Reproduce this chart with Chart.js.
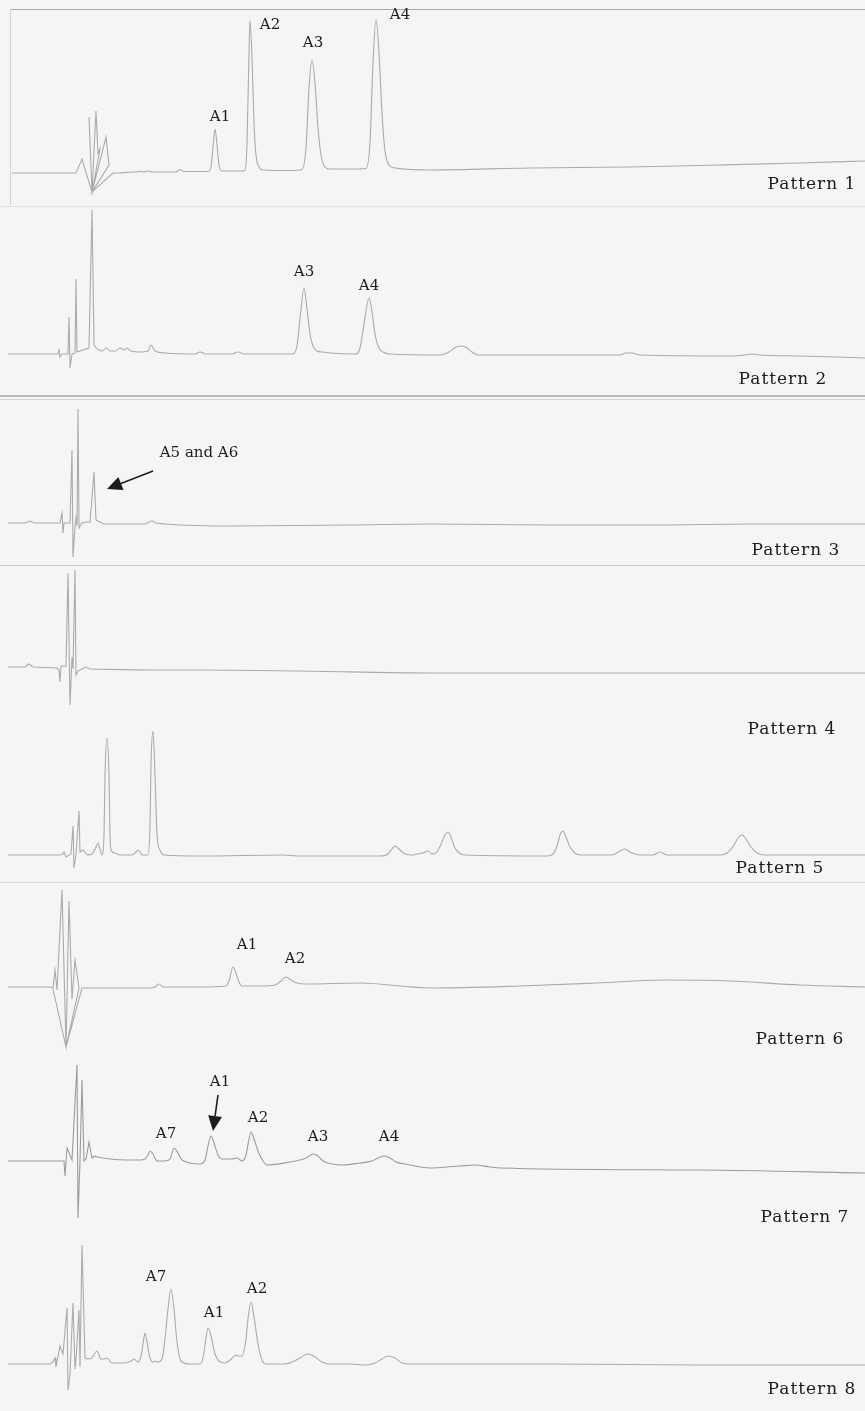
<!DOCTYPE html>
<html>
<head>
<meta charset="utf-8">
<script src="https://cdn.jsdelivr.net/npm/chart.js@4.4.1/dist/chart.umd.min.js"></script>
<style>
html, body { margin: 0; padding: 0; background: #f5f5f3; }
#page { position: relative; width: 865px; height: 1411px; overflow: hidden; }
#page canvas { position: absolute; left: 0; }
.rule { position: absolute; }
</style>
</head>
<body>
<div id="page"></div>
<script>
// retention axis in scan units (0-865), signal in detector units above each run's start baseline
const patternNames = ['Pattern 1', 'Pattern 2', 'Pattern 3', 'Pattern 4', 'Pattern 5', 'Pattern 6', 'Pattern 7', 'Pattern 8'];

// injection / solvent front (sharp, no smoothing)
const spikes1 = [[12,0],[76,0],[82,14],[92,-19],[89,56],[92,-19],[96,62],[98,20],[100,24],[92,-19],[106,36],[109,8],[92,-19],[113,0],[120,0]];
const spikes2 = [[8,0],[58,0],[59,4],[60,-3],[62,0],[68,0],[69,37],[70,-14],[72,0],[75,1],[76,75],[77,2],[83,4],[89,6],[92,144],[94,9],[97,5]];
const spikes3 = [[8,0],[25,0],[30,2],[34,0],[60,0],[62,10],[63,-10],[64,0],[70,0],[72,73],[73,-34],[75,-4],[76,5],[77,-3],[78,114],[79,-5],[82,0],[86,1],[90,1],[94,51],[96,3]];
const spikes4 = [[8,0],[25,0],[29,3],[33,0],[57,-1],[59,-3],[60,-15],[61,1],[66,1],[68,94],[70,-38],[72,10],[73,-2],[75,97],[76,-8],[78,-4],[82,-2],[86,0],[90,-2]];
const spikes5 = [[8,0],[60,0],[63,1],[64,3],[66,-2],[71,1],[73,29],[74,-13],[76,1],[79,44],[80,3],[83,5],[87,0]];
const spikes6 = [[8,0],[50,0],[53,-1],[55,17],[57,-3],[62,97],[66,-60],[53,-2],[66,-60],[69,86],[72,-12],[75,27],[79,-1],[66,-60],[82,-1],[90,-1]];
const spikes7 = [[8,0],[60,0],[64,0],[65,-15],[67,13],[70,6],[72,1],[77,96],[78,-57],[80,0],[82,81],[84,0],[86,2],[89,19],[92,3],[95,5],[97,4]];
const spikes8 = [[8,0],[50,0],[53,2],[55,6],[56,-3],[60,18],[63,10],[67,56],[68,-26],[70,-10],[73,61],[75,-5],[76,4],[79,54],[80,-3],[82,119],[85,6],[88,5]];

// rest of each run (peaks)
const trace1 = [[120,0],[132,1],[137,1],[140,2],[143,1],[148,2],[152,1],[157,1],[176,1],[180,3.5],[184,1.5],[205,1.5],
  [208,1.5],[211,6],[213,26],[215,44],[217,28],[219,8],[222,2],[240,2],
  [245,2.5],[247,30],[249,120],[250,153],[252,115],[254,50],[256,18],[259,6],[263,3],[290,2.5],
  [302,3.5],[306,25],[309,85],[312,113],[315,90],[318,45],[321,18],[325,6],[330,4],[355,4],
  [366,4.5],[370,30],[373,110],[376,154],[379,120],[382,60],[385,22],[389,8],[395,5],
  [430,3],[530,5],[630,6],[720,8],[800,10],[865,12]];
const trace2 = [[97,5],[102,3],[106,6],[110,3],[116,3],[120,6],[124,4],[127,6],[131,3],[140,2],[148,3],[151,9],[155,3],[165,1],[195,0],[200,2],[206,0],[232,0],[238,2],[244,0],[285,0],
  [292,0],[297,8],[300,35],[304,66],[307,45],[310,20],[313,8],[317,3],[322,2],[330,1],
  [355,0],[360,6],[364,30],[369,56],[372,42],[375,20],[378,8],[383,2],[390,0],
  [440,-1],[449,2],[456,7],[462,8],[467,6],[472,2],[478,-1],[550,-1],[620,-1],[626,1],[632,1],[640,-1],[730,-2],[745,-1],[752,0],[760,-1],[800,-2],[865,-4]];
const trace3 = [[96,3],[100,1],[105,-1],[115,-1],[125,-1],[145,-1],[149,1],[152,2],[156,0],[165,-1],[233,-3],[350,-2],[430,-1],[550,-2],[650,-2],[750,-1],[865,-1]];
const trace4 = [[90,-2],[150,-3],[200,-3],[300,-4],[430,-6],[550,-6],[700,-6],[865,-6]];
const trace5 = [[87,0],[92,1],[96,8],[98,12],[100,6],[102,0],[104,20],[105,80],[107,117],[109,80],[110,20],[111,5],[115,2],[120,0],
  [132,0],[136,3],[138,5],[140,3],[142,0],[148,0],[150,30],[151,90],[153,124],[155,80],[157,20],[160,5],[164,0],
  [200,-1],[283,0],[300,-1],[380,-1],[388,1],[392,6],[395,9],[399,6],[405,1],[412,0],[417,1],[423,2],[428,4],[432,1],
  [437,3],[441,11],[445,20],[448,23],[451,18],[454,9],[458,3],[465,0],[547,-1],
  [553,1],[557,9],[560,20],[563,24],[566,18],[570,8],[575,2],[580,0],[612,0],[620,4],[625,6],[630,3],[640,0],[653,0],[660,3],[667,0],
  [720,0],[727,2],[734,10],[738,17],[742,20],[746,16],[751,8],[757,2],[765,0],[865,0]];
const trace6 = [[90,-1],[120,-1],[150,-1],[155,0],[159,3],[163,0],[200,0],[226,1],[229,6],[233,20],[236,14],[239,5],[242,1],[260,1],
  [275,2],[281,6],[286,10],[291,7],[297,4],[305,3],[360,4],[430,-1],[520,1],[597,4],[663,7],[730,6],[800,2],[865,0]];
const trace7 = [[97,4],[110,2],[127,1],[140,1],[145,2],[148,6],[150,10],[153,7],[157,0],[165,0],[170,2],[174,13],[178,8],[182,1],[200,-3],
  [205,1],[208,15],[211,25],[214,18],[218,6],[222,2],[227,2],[232,2],[237,3],[242,0],
  [246,6],[249,22],[251,29],[254,22],[258,10],[263,0],[267,-4],[290,-1],[300,1],[306,3],[313,7],[318,5],[323,0],[332,-3],[343,-4],
  [360,-2],[372,0],[378,3],[384,5],[390,3],[396,-1],[405,-3],[430,-7],[460,-5],[475,-4],[490,-6],[500,-7],[700,-9],[865,-12]];
const trace8 = [[88,5],[92,6],[97,13],[101,5],[104,5],[107,6],[112,1],[125,1],[131,3],[134,5],[138,2],[141,8],[143,20],[145,31],[147,22],[150,6],[153,2],[155,3],[158,2],
  [162,5],[165,25],[168,55],[171,75],[174,55],[177,22],[181,3],[190,0],[200,0],
  [203,6],[206,26],[208,36],[211,28],[215,10],[219,3],[225,1],[230,4],[236,9],[238,8],[242,8],
  [246,25],[248,45],[251,62],[254,47],[258,20],[262,4],[266,0],[285,0],[292,2],[300,6],[308,10],[315,7],[322,2],[330,0],
  [350,0],[366,-1],[375,1],[382,5],[388,8],[395,6],[402,1],[410,0],[430,0],[550,0],[700,-1],[865,-1]];

// peak names [text, retention, signal]
const labels1 = [['A1',220,56],['A2',270,148],['A3',313,130],['A4',400,158]];
const labels2 = [['A3',304,82],['A4',369,68]];
const labels3 = [['A5 and A6',199,70]];
const labels6 = [['A1',247,42],['A2',295,28]];
const labels7 = [['A7',166,27],['A1',220,79],['A2',258,43],['A3',318,24],['A4',389,24]];
const labels8 = [['A7',156,87],['A1',214,51],['A2',257,75]];

// arrows [fromX, fromY, toX, toY]
const arrows3 = [[153,52,107,34]];
const arrows7 = [[218,66,213,30]];

// where each "Pattern n" caption sits [retention, signal]
const nameX = [812, 783, 796, 792, 780, 800, 805, 812];
const nameY = [-12, -26, -28, -63, -14, -53, -57, -26];

const notes = {
    id: 'notes',
    afterDatasetsDraw(chart, args, opts) {
        var ctx = chart.ctx;
        var xs = chart.scales.x, ys = chart.scales.y;
        ctx.save();
        ctx.fillStyle = '#1c1c1c';
        ctx.strokeStyle = '#1c1c1c';
        ctx.textAlign = 'center';
        ctx.textBaseline = 'middle';
        ctx.font = '15px "DejaVu Serif"';
        (opts.labels || []).forEach(function(l) {
            ctx.fillText(l[0], xs.getPixelForValue(l[1]), ys.getPixelForValue(l[2]));
        });
        (opts.arrows || []).forEach(function(a) {
            var x1 = xs.getPixelForValue(a[0]), y1 = ys.getPixelForValue(a[1]);
            var x2 = xs.getPixelForValue(a[2]), y2 = ys.getPixelForValue(a[3]);
            var ang = Math.atan2(y2 - y1, x2 - x1);
            var len = 15, half = 7;
            var bx = x2 - len * Math.cos(ang), by = y2 - len * Math.sin(ang);
            ctx.lineWidth = 1.6;
            ctx.beginPath();
            ctx.moveTo(x1, y1);
            ctx.lineTo(bx, by);
            ctx.stroke();
            ctx.beginPath();
            ctx.moveTo(x2, y2);
            ctx.lineTo(bx + half * Math.sin(ang), by - half * Math.cos(ang));
            ctx.lineTo(bx - half * Math.sin(ang), by + half * Math.cos(ang));
            ctx.closePath();
            ctx.fill();
        });
        if (opts.name) {
            ctx.font = '17px "DejaVu Serif"';
            ctx.letterSpacing = '1px';
            ctx.fillText(opts.name, xs.getPixelForValue(opts.nameAt[0]), ys.getPixelForValue(opts.nameAt[1]));
        }
        ctx.restore();
    }
};

// page layout: top, height and start-baseline row for each run
var panels = [
    {spikes: spikes1, trace: trace1, labels: labels1, top: 0, height: 206, ref: 173},
    {spikes: spikes2, trace: trace2, labels: labels2, top: 205, height: 192, ref: 354},
    {spikes: spikes3, trace: trace3, labels: labels3, arrows: arrows3, top: 397, height: 169, ref: 523},
    {spikes: spikes4, trace: trace4, top: 566, height: 180, ref: 667},
    {spikes: spikes5, trace: trace5, top: 715, height: 167, ref: 855},
    {spikes: spikes6, trace: trace6, labels: labels6, top: 882, height: 170, ref: 987},
    {spikes: spikes7, trace: trace7, labels: labels7, arrows: arrows7, top: 1052, height: 178, ref: 1161},
    {spikes: spikes8, trace: trace8, labels: labels8, top: 1215, height: 196, ref: 1364}
];

var rules = [
    {l: 10, t: 9, w: 855, h: 1, c: '#a9a9a9'},
    {l: 10, t: 9, w: 1, h: 196, c: '#d2d2d2'},
    {l: 0, t: 206, w: 865, h: 1, c: '#e2e2e0'},
    {l: 0, t: 395, w: 865, h: 2, c: '#b8b8b8'},
    {l: 0, t: 399, w: 865, h: 1, c: '#d0d0d0'},
    {l: 0, t: 565, w: 865, h: 1, c: '#c8c8c8'},
    {l: 0, t: 882, w: 865, h: 1, c: '#d6d6d6'}
];

var page = document.getElementById('page');
rules.forEach(function(r) {
    var d = document.createElement('div');
    d.className = 'rule';
    d.style.left = r.l + 'px';
    d.style.top = r.t + 'px';
    d.style.width = r.w + 'px';
    d.style.height = r.h + 'px';
    d.style.background = r.c;
    page.appendChild(d);
});

panels.forEach(function(p, i) {
    var canvas = document.createElement('canvas');
    canvas.width = 865;
    canvas.height = p.height;
    canvas.style.top = p.top + 'px';
    page.appendChild(canvas);

    var lineColor = i == 6 ? '#9c9c9c' : '#ababab';

    new Chart(canvas, {
        type: 'scatter',
        data: {
            datasets: [{
                data: p.spikes.map(function(v) { return {x: v[0], y: v[1]}; }),
                showLine: true,
                borderColor: lineColor,
                borderWidth: 1.1,
                pointRadius: 0,
                tension: 0
            }, {
                data: p.trace.map(function(v) { return {x: v[0], y: v[1]}; }),
                showLine: true,
                borderColor: lineColor,
                borderWidth: 1.1,
                pointRadius: 0,
                cubicInterpolationMode: 'monotone'
            }]
        },
        options: {
            responsive: false,
            animation: false,
            layout: { padding: 0 },
            scales: {
                x: { type: 'linear', min: 0, max: 865, display: false },
                y: { min: p.ref - (p.top + p.height), max: p.ref - p.top, display: false }
            },
            plugins: {
                legend: { display: false },
                tooltip: { enabled: false },
                notes: {
                    labels: p.labels,
                    arrows: p.arrows,
                    name: patternNames[i],
                    nameAt: [nameX[i], nameY[i]]
                }
            }
        },
        plugins: [notes]
    });
});
</script>
</body>
</html>
